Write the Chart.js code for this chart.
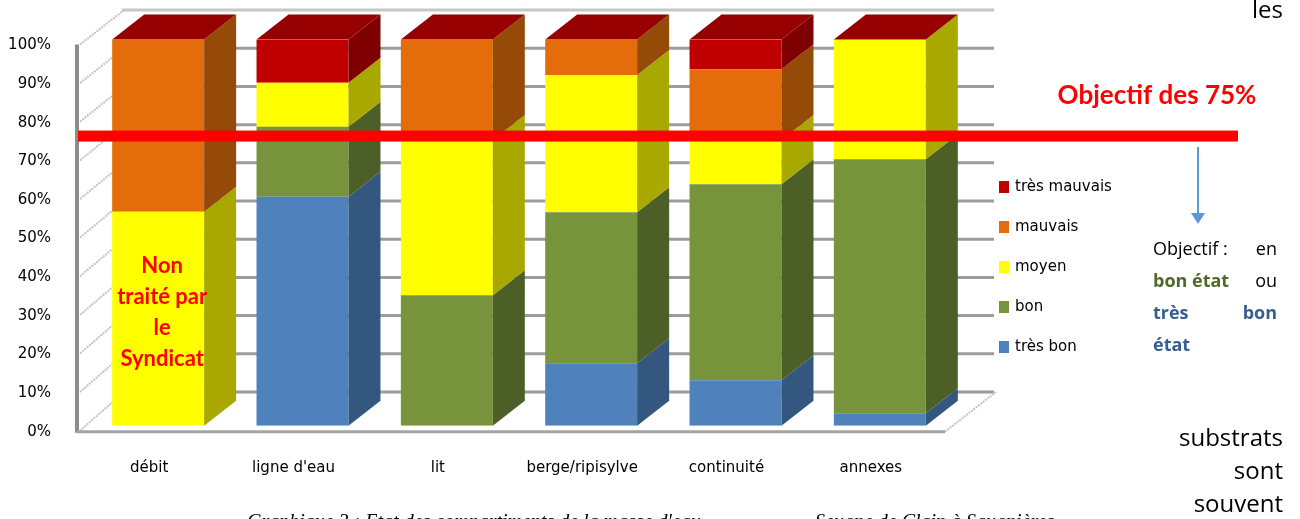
<!DOCTYPE html>
<html lang="fr">
<head>
<meta charset="utf-8">
<title>Etat des compartiments</title>
<script src="https://cdn.jsdelivr.net/npm/chart.js@4.4.1/dist/chart.umd.min.js"></script>
<style>
  html, body { margin: 0; padding: 0; background: #ffffff; }
  #wrap { position: relative; width: 1300px; height: 519px; overflow: hidden; }
  canvas { display: block; }
</style>
</head>
<body>
<div id="wrap"><canvas id="etatChart" width="1300" height="519"></canvas></div>
<script>
// Compartments and share (%) of each state class
const categories = ["débit", "ligne d'eau", "lit", "berge/ripisylve", "continuité", "annexes"];
const tresBon     = [0,    59.3, 0,    16.2, 11.8, 3.2];
const bon         = [0,    18.1, 33.8, 39.1, 50.7, 65.8];
const moyen       = [55.4, 11.4, 40.2, 35.5, 11.5, 31.0];
const mauvais     = [44.6, 0,    26.0, 9.2,  18.3, 0];
const tresMauvais = [0,    11.2, 0,    0,    7.7,  0];
const seriesLabels = ["très bon", "bon", "moyen", "mauvais", "très mauvais"];
const objectif = 75;

// front / side shades of each class
const frontColors = ["#4F81BD", "#77933C", "#FFFF00", "#E46C0A", "#C00000"];
const sideColors  = ["#33577F", "#4C5F27", "#A8A800", "#964A08", "#7E0000"];
const topColor = "#960000";

const axisFont = { family: "'Comic Sans MS', 'DejaVu Sans', sans-serif", size: 15 };
const DX = 32, DY = -25; // bar depth

// 3D look: walls behind the bars, then side and top faces
const scene3d = {
  id: "scene3d",
  beforeDatasetsDraw(chart) {
    const { ctx, scales: { y } } = chart;
    const y0 = y.getPixelForValue(0);
    const backY = v => 392 - (y0 - y.getPixelForValue(v)) * 0.989;
    const frontY = v => y.getPixelForValue(v) + 5;
    ctx.save();
    // back wall grid
    for (let v = 0; v <= 100; v += 10) {
      ctx.beginPath();
      ctx.strokeStyle = v === 100 ? "#c6c6c6" : "#9c9c9c";
      ctx.lineWidth = 3;
      ctx.moveTo(122, backY(v));
      ctx.lineTo(994, backY(v));
      ctx.stroke();
    }
    // left wall lines
    ctx.setLineDash([2, 1]);
    ctx.strokeStyle = "#c2c2c2";
    ctx.lineWidth = 2;
    for (let v = 0; v <= 100; v += 10) {
      ctx.beginPath();
      ctx.moveTo(80, frontY(v));
      ctx.lineTo(124, backY(v));
      ctx.stroke();
    }
    // floor right edge
    ctx.beginPath();
    ctx.moveTo(945, frontY(0) + 1);
    ctx.lineTo(996, backY(0));
    ctx.stroke();
    ctx.setLineDash([]);
    // left wall front edge
    ctx.strokeStyle = "#8c8c8c";
    ctx.lineWidth = 4;
    ctx.beginPath();
    ctx.moveTo(77, frontY(100));
    ctx.lineTo(77, frontY(0) + 2);
    ctx.stroke();
    // floor front edge
    ctx.strokeStyle = "#a4a4a4";
    ctx.lineWidth = 3;
    ctx.beginPath();
    ctx.moveTo(77, frontY(0) + 1);
    ctx.lineTo(945, frontY(0) + 1);
    ctx.stroke();
    ctx.restore();
  },
  afterDatasetsDraw(chart) {
    const { ctx } = chart;
    const metas = chart.data.datasets.map((d, i) => chart.getDatasetMeta(i));
    ctx.save();
    categories.forEach((c, i) => {
      let top = null;
      metas.forEach((meta, s) => {
        const bar = meta.data[i];
        const val = chart.data.datasets[s].data[i];
        if (!val) return;
        const xr = bar.x + bar.width / 2;
        ctx.fillStyle = sideColors[s];
        ctx.beginPath();
        ctx.moveTo(xr, bar.y);
        ctx.lineTo(xr + DX, bar.y + DY);
        ctx.lineTo(xr + DX, bar.base + DY);
        ctx.lineTo(xr, bar.base);
        ctx.closePath();
        ctx.fill();
        top = bar;
      });
      if (top) {
        const xl = top.x - top.width / 2, xr = top.x + top.width / 2;
        ctx.fillStyle = topColor;
        ctx.beginPath();
        ctx.moveTo(xl, top.y);
        ctx.lineTo(xl + DX, top.y + DY);
        ctx.lineTo(xr + DX, top.y + DY);
        ctx.lineTo(xr, top.y);
        ctx.closePath();
        ctx.fill();
      }
    });
    ctx.restore();
  },
  afterDraw(chart) {
    const { ctx, scales: { x, y } } = chart;
    ctx.save();

    // legend, worst class first
    ctx.font = "15px 'Comic Sans MS', 'DejaVu Sans', sans-serif";
    ctx.textBaseline = "middle";
    ctx.fillStyle = "#000";
    for (let k = 0; k < seriesLabels.length; k++) {
      const s = seriesLabels.length - 1 - k;
      const ly = 187 + k * 40;
      ctx.fillStyle = frontColors[s];
      ctx.fillRect(999, ly - 6, 10, 12);
      ctx.fillStyle = "#000";
      ctx.fillText(seriesLabels[s], 1015, ly);
    }

    // note on the first bar
    ctx.fillStyle = "#FF0000";
    ctx.font = "bold 22px Lato, sans-serif";
    ctx.textAlign = "center";
    const nx = x.getPixelForValue(0) + 4;
    ["Non", "traité par", "le", "Syndicat"].forEach((t, k) => ctx.fillText(t, nx, 266 + k * 31));

    // target line
    const yt = y.getPixelForValue(objectif);
    ctx.fillRect(78, yt - 5.5, 1160, 11);
    ctx.font = "bold 26px Lato, sans-serif";
    ctx.fillText("Objectif des " + objectif + "%", 1157, 96);

    // arrow down to the note
    ctx.strokeStyle = "#5B9BD5";
    ctx.fillStyle = "#5B9BD5";
    ctx.lineWidth = 2;
    ctx.beginPath();
    ctx.moveTo(1198, 147);
    ctx.lineTo(1198, 214);
    ctx.stroke();
    ctx.beginPath();
    ctx.moveTo(1191, 213);
    ctx.lineTo(1205, 213);
    ctx.lineTo(1198, 224);
    ctx.closePath();
    ctx.fill();

    // justified note block
    ctx.textAlign = "left";
    ctx.font = "18px 'Open Sans', sans-serif";
    ctx.fillStyle = "#000";
    ctx.fillText("Objectif :", 1153, 250);
    ctx.textAlign = "right";
    ctx.fillText("en", 1277, 250);
    ctx.fillText("ou", 1277, 282);
    ctx.font = "bold 18px 'Open Sans', sans-serif";
    ctx.textAlign = "left";
    ctx.fillStyle = "#4F6A28";
    ctx.fillText("bon état", 1153, 282);
    ctx.fillStyle = "#365F91";
    ctx.fillText("très", 1153, 314);
    ctx.fillText("état", 1153, 346);
    ctx.textAlign = "right";
    ctx.fillText("bon", 1277, 314);

    // surrounding page text
    ctx.fillStyle = "#000";
    ctx.font = "24px 'Open Sans', sans-serif";
    ctx.fillText("les", 1283, 11);
    ctx.fillText("substrats", 1283, 439);
    ctx.fillText("sont", 1283, 472);
    ctx.fillText("souvent", 1283, 505);

    // caption
    ctx.textAlign = "left";
    ctx.textBaseline = "alphabetic";
    ctx.font = "italic 20px 'Liberation Serif', serif";
    ctx.fillText("Graphique 3 : Etat des compartiments de la masse d'eau", 247, 528);
    ctx.fillText("Seugne de Clain à Saugnières", 815, 528);
    ctx.restore();
  }
};

const datasets = [tresBon, bon, moyen, mauvais, tresMauvais].map((vals, s) => ({
  label: seriesLabels[s],
  data: vals,
  backgroundColor: frontColors[s],
  borderWidth: 0,
  categoryPercentage: 1,
  barPercentage: 0.637
}));

new Chart(document.getElementById("etatChart"), {
  type: "bar",
  data: { labels: categories, datasets },
  options: {
    responsive: false,
    animation: false,
    layout: { padding: { left: 0, top: 39.5, right: 348, bottom: 0 } },
    plugins: { legend: { display: false }, tooltip: { enabled: false } },
    scales: {
      x: {
        stacked: true,
        grid: { display: false },
        border: { display: false },
        ticks: { color: "#000", font: axisFont, padding: 25, labelOffset: -9, maxRotation: 0 },
        afterFit: s => { s.height = 519 - 425.7; }
      },
      y: {
        stacked: true,
        min: 0,
        max: 100,
        grid: { display: false },
        border: { display: false },
        ticks: { stepSize: 10, color: "#000", font: axisFont, padding: 27, labelOffset: 6, callback: v => v + "%" },
        afterFit: s => { s.width = 86; }
      }
    }
  },
  plugins: [scene3d]
});
</script>
</body>
</html>
